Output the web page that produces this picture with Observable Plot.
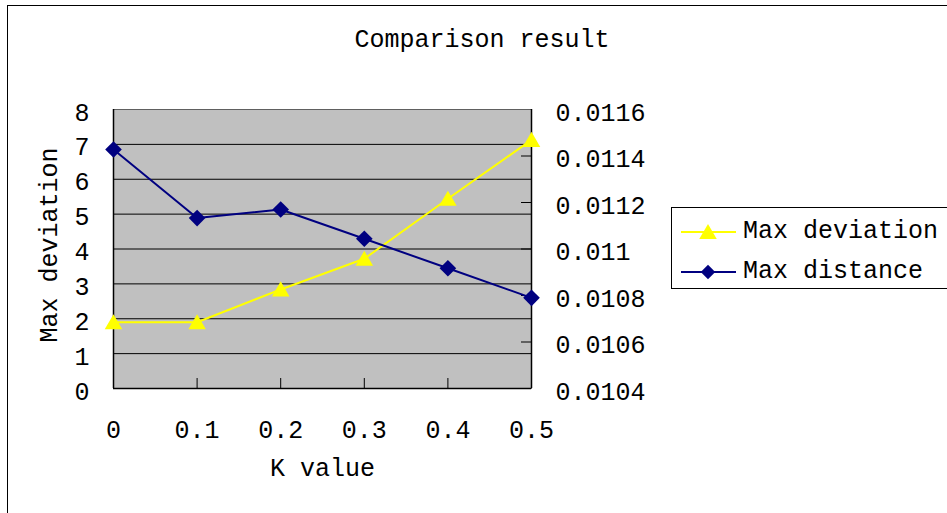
<!DOCTYPE html>
<html><head><meta charset="utf-8">
<script src="https://cdn.jsdelivr.net/npm/d3@7"></script>
<script src="https://cdn.jsdelivr.net/npm/@observablehq/plot@0.6"></script>
<style>
body{margin:0;background:#fff;}
#wrap{position:relative;width:947px;height:513px;overflow:hidden;font-family:"Liberation Mono",monospace;color:#000;}
#frame{position:absolute;left:7px;top:5px;width:960px;height:530px;border-left:1.5px solid #000;border-top:1.5px solid #000;}
#title{position:absolute;top:26px;left:0;width:964px;text-align:center;font-size:25px;line-height:30px;}
#chart{position:absolute;left:0;top:0;}
#legend{position:absolute;left:671px;top:207px;width:300px;height:80px;border:1px solid #000;background:#fff;font-size:25px;}
.row{position:absolute;left:0;height:30px;display:flex;align-items:center;}
.row svg{display:block;}
.row span{position:absolute;left:71px;white-space:nowrap;line-height:30px;}
</style></head>
<body>
<div id="wrap">
  <div id="frame"></div>
  <div id="title"></div>
  <div id="chart"></div>
  <div id="legend"></div>
</div>
<script>
const titleText = "Comparison result";
const xLabel = "K value";
const yLabel = "Max deviation";
const seriesNames = ["Max deviation", "Max distance"];
const seriesColors = ["#ffff00", "#000080"];
const kValues = [0, 0.1, 0.2, 0.3, 0.4, 0.5];
const xTickLabels = ["0", "0.1", "0.2", "0.3", "0.4", "0.5"];
const maxDeviation = [1.9, 1.9, 2.84, 3.72, 5.44, 7.13];
const maxDistance = [0.011428, 0.011133, 0.01117, 0.011044, 0.010917, 0.01079];
const leftTicks = [0, 1, 2, 3, 4, 5, 6, 7, 8];
const leftTickLabels = ["0", "1", "2", "3", "4", "5", "6", "7", "8"];
const rightTicks = [0.0104, 0.0106, 0.0108, 0.011, 0.0112, 0.0114, 0.0116];
const rightTickLabels = ["0.0104", "0.0106", "0.0108", "0.011", "0.0112", "0.0114", "0.0116"];

document.getElementById("title").textContent = titleText;

const toLeft = d3.scaleLinear([0.0104, 0.0116], [0, 8]);
const dev = kValues.map((k, i) => ({k, v: maxDeviation[i]}));
const dist = kValues.map((k, i) => ({k, v: toLeft(maxDistance[i])}));
const rightPos = rightTicks.map(toLeft);

const W = 947, H = 513, mL = 113, mR = 416, mT = 109, mB = 125;
const innerW = W - mL - mR, innerH = H - mT - mB;

const chart = Plot.plot({
  width: W, height: H,
  marginLeft: mL, marginRight: mR, marginTop: mT, marginBottom: mB,
  style: {fontFamily: "Liberation Mono, monospace", fontSize: "25px", background: "transparent", overflow: "visible", color: "#000"},
  x: {domain: [0, 0.5], label: null},
  y: {domain: [0, 8], label: null},
  marks: [
    Plot.frame({fill: "#c0c0c0", stroke: "#606060"}),
    Plot.ruleY(leftTicks.slice(1, -1), {stroke: "#000", strokeWidth: 1}),
    Plot.ruleX(kValues.slice(1, -1), {stroke: "#000", insetTop: innerH - 10}),
    Plot.ruleY(rightPos.slice(1, -1), {stroke: "#000", insetLeft: innerW - 10}),
    Plot.ruleX([0, 0.5], {stroke: "#000", strokeWidth: 1.5}),
    Plot.ruleY([0], {stroke: "#000", strokeWidth: 1.5}),
    Plot.axisY(leftTicks, {anchor: "left", label: null, tickSize: 0, tickPadding: 24, dy: 3, tickFormat: d => leftTickLabels[leftTicks.indexOf(d)]}),
    Plot.axisY(rightPos, {anchor: "right", label: null, tickSize: 0, tickPadding: 24, dy: 3, tickFormat: d => rightTickLabels[rightPos.indexOf(d)]}),
    Plot.axisX(kValues, {anchor: "bottom", label: null, tickSize: 0, tickPadding: 32, tickFormat: d => xTickLabels[kValues.indexOf(d)]}),
    Plot.text([yLabel], {frameAnchor: "left", textAnchor: "middle", dx: -65, dy: -4, rotate: -90, fontSize: 25}),
    Plot.text([xLabel], {frameAnchor: "bottom", dy: 87, fontSize: 25}),
    Plot.line(dev, {x: "k", y: "v", stroke: seriesColors[0], strokeWidth: 2}),
    Plot.dot(dev, {x: "k", y: "v", symbol: "triangle", r: 6.5, fill: seriesColors[0], stroke: "none", dy: 2}),
    Plot.line(dist, {x: "k", y: "v", stroke: seriesColors[1], strokeWidth: 2}),
    Plot.dot(dist, {x: "k", y: "v", symbol: "diamond2", r: 7.5, fill: seriesColors[1], stroke: "none"})
  ]
});
document.getElementById("chart").appendChild(chart);

const legend = document.getElementById("legend");
const syms = [d3.symbolTriangle, d3.symbolDiamond2];
const sizes = [Math.PI * 6.5 * 6.5, Math.PI * 6.5 * 6.5];
seriesNames.forEach((name, i) => {
  const row = document.createElement("div");
  row.className = "row";
  row.style.top = (9 + i * 40) + "px";
  const svg = d3.create("svg").attr("width", 70).attr("height", 30);
  svg.append("line").attr("x1", 9).attr("x2", 64).attr("y1", 15).attr("y2", 15)
    .attr("stroke", seriesColors[i]).attr("stroke-width", 2);
  svg.append("path").attr("d", d3.symbol(syms[i], sizes[i])())
    .attr("transform", `translate(36,${i === 0 ? 17 : 15})`).attr("fill", seriesColors[i]);
  row.appendChild(svg.node());
  const span = document.createElement("span");
  span.textContent = name;
  row.appendChild(span);
  legend.appendChild(row);
});
</script>
</body></html>
